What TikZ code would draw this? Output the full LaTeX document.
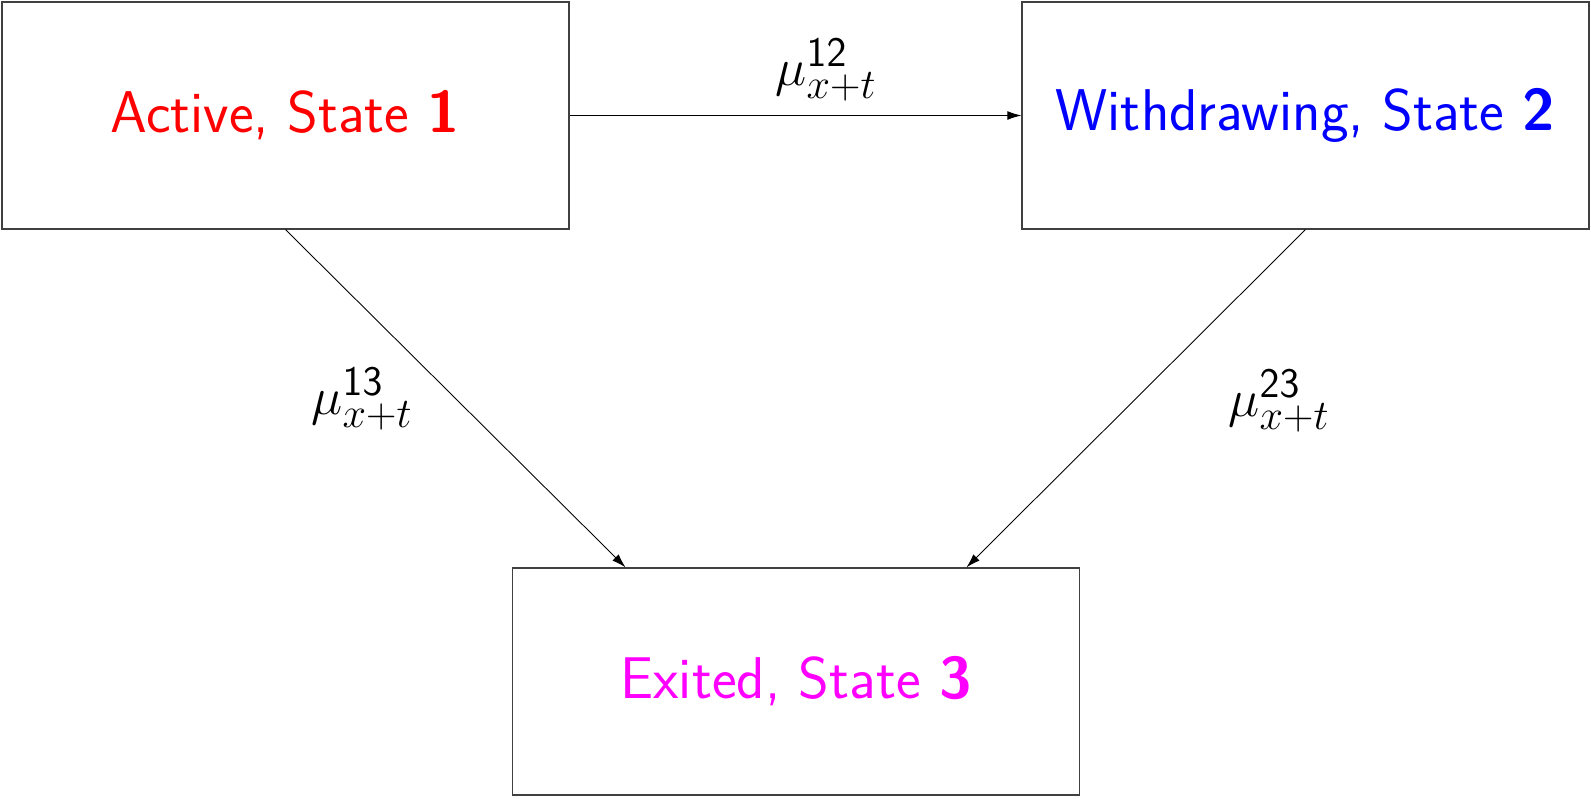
\RequirePackage{fix-cm}
\documentclass[tikz,border=0pt]{standalone}
\usetikzlibrary{arrows.meta,calc}
\DeclareMathSizes{30}{30}{24}{20}
\definecolor{statered}{RGB}{255,0,0}
\definecolor{stateblue}{RGB}{0,0,255}
\definecolor{statemagenta}{RGB}{255,0,255}
\begin{document}
\begin{tikzpicture}[x=0.02cm,y=-0.02cm,
  statebox/.style={draw=black!75,line width=0.7pt,minimum width=11.34cm,minimum height=4.54cm,inner sep=0pt,
    font=\sffamily\fontsize{33.5}{40}\selectfont},
  rate/.style={font=\fontsize{30}{36}\selectfont,inner sep=0pt},
  conn/.style={draw=black,line width=0.5pt,-{Latex[length=8pt,width=5pt]}}]
\useasboundingbox (0,0) rectangle (1591,798);
\node[statebox,text=statered] (b1) at (285.5,115.5) {Active, State \textbf{1}};
\node[statebox,text=stateblue] (b2) at (1305.5,115.5) {Withdrawing, State \textbf{2}};
\node[statebox,text=statemagenta] (b3) at (796,681.5) {Exited, State \textbf{3}};
\coordinate (e13) at ($(b3.north west)!0.2!(b3.north east)$);
\coordinate (e23) at ($(b3.north west)!0.8!(b3.north east)$);
\draw[conn] (b1.east) -- (b2.west);
\draw[conn] (b1.south) -- (e13);
\draw[conn] (b2.south) -- (e23);
\node[rate] (l12) at (826,70) {$\mu^{\mathsf{12}}_{x+t}$};
\node[rate] (l13) at (362,399) {$\mu^{\mathsf{13}}_{x+t}$};
\node[rate] (l23) at (1279,401) {$\mu^{\mathsf{23}}_{x+t}$};
\end{tikzpicture}
\end{document}
